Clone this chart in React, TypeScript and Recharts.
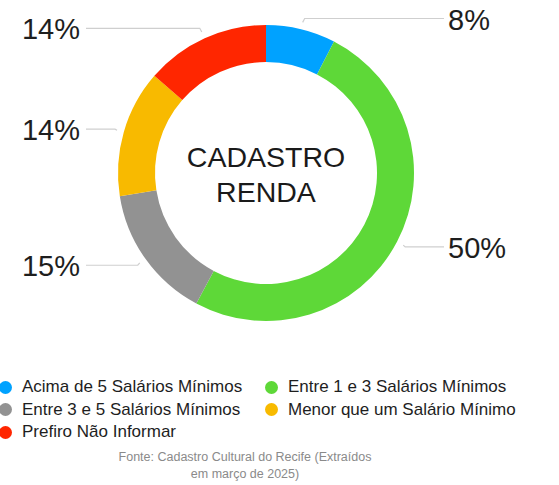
import React from "react";
import { PieChart, Pie, Cell, Label, Legend } from "recharts";

const categorias = [
  "Acima de 5 Salários Mínimos",
  "Entre 1 e 3 Salários Mínimos",
  "Entre 3 e 5 Salários Mínimos",
  "Menor que um Salário Mínimo",
  "Prefiro Não Informar",
];
const percentuais = [7.6, 50.2, 14.7, 13.9, 13.6];
const cores = ["#00A2FF", "#5ED838", "#929292", "#F8BA00", "#FF2600"];
const titulo = ["CADASTRO", "RENDA"];
const fonte = ["Fonte: Cadastro Cultural do Recife (Extraídos", "em março de 2025)"];

const data = categorias.map((nome, i) => ({ nome, valor: percentuais[i] }));

const RAD = Math.PI / 180;
const FONT = "'Liberation Sans', Arial, Helvetica, sans-serif";

const renderLabel = (props: any) => {
  const { cx, cy, midAngle, outerRadius, percent, index } = props;
  const r = outerRadius + 7;
  const sx = cx + r * Math.cos(-midAngle * RAD);
  const sy = cy + r * Math.sin(-midAngle * RAD);
  const right = sx > cx;
  const hy = sy - Math.sin(midAngle * RAD) * 4;
  const ex = right ? cx + 178 : cx - 180;
  const tx = right ? ex + 4 : ex - 6;
  return (
    <g key={`lbl-${index}`}>
      <polyline
        points={`${sx},${sy} ${sx + (right ? 2 : -2)},${hy} ${ex},${hy}`}
        fill="none"
        stroke="#cfcfcf"
        strokeWidth={1.2}
      />
      <text
        x={tx}
        y={hy + 1}
        textAnchor={right ? "start" : "end"}
        dominantBaseline="central"
        fill="#1e1e1e"
        fontSize={29}
        fontFamily={FONT}
      >
        {`${Math.round(percent * 100)}%`}
      </text>
    </g>
  );
};

const renderCentro = (props: any) => {
  const vb = props.viewBox || {};
  const cx = vb.cx ?? 266;
  const cy = vb.cy ?? 173;
  return (
    <text textAnchor="middle" fill="#1a1a1a" fontSize={28.5} fontFamily={FONT}>
      <tspan x={cx} y={cy - 6}>{titulo[0]}</tspan>
      <tspan x={cx} y={cy + 29}>{titulo[1]}</tspan>
    </text>
  );
};

const renderLegenda = () => (
  <div
    style={{
      display: "grid",
      gridTemplateColumns: "265px 294px",
      rowGap: 0,
      fontFamily: FONT,
      fontSize: 17,
      color: "#1e1e1e",
    }}
  >
    {categorias.map((nome, i) => (
      <div key={nome} style={{ display: "flex", alignItems: "center", height: 22.5 }}>
        <span
          style={{
            display: "inline-block",
            width: 13,
            height: 13,
            borderRadius: "50%",
            background: cores[i],
            marginLeft: i % 2 === 0 ? -1 : 0,
            marginRight: 10,
          }}
        />
        <span>{nome}</span>
      </div>
    ))}
  </div>
);

const App: React.FC = () => {
  return (
    <div style={{ position: "absolute", left: 0, top: 0, width: 559, height: 485, background: "#fff" }}>
      <PieChart width={559} height={485} margin={{ top: 0, right: 0, bottom: 0, left: 0 }}>
        <Pie
          data={data}
          dataKey="valor"
          nameKey="nome"
          cx={266}
          cy={173}
          innerRadius={111}
          outerRadius={148}
          startAngle={90}
          endAngle={-270}
          stroke="none"
          label={renderLabel}
          labelLine={false}
          isAnimationActive={false}
        >
          {data.map((d, i) => (
            <Cell key={d.nome} fill={cores[i]} />
          ))}
          <Label position="center" content={renderCentro} />
        </Pie>
        <Legend
          content={renderLegenda}
          wrapperStyle={{ position: "absolute", left: 0, top: 376, width: 559 }}
        />
      </PieChart>
      <div
        style={{
          position: "absolute",
          left: 0,
          top: 449,
          width: 490,
          textAlign: "center",
          fontFamily: FONT,
          fontSize: 12.5,
          lineHeight: "17px",
          color: "#8a8a8a",
        }}
      >
        {fonte[0]}
        <br />
        {fonte[1]}
      </div>
    </div>
  );
};

export default App;
